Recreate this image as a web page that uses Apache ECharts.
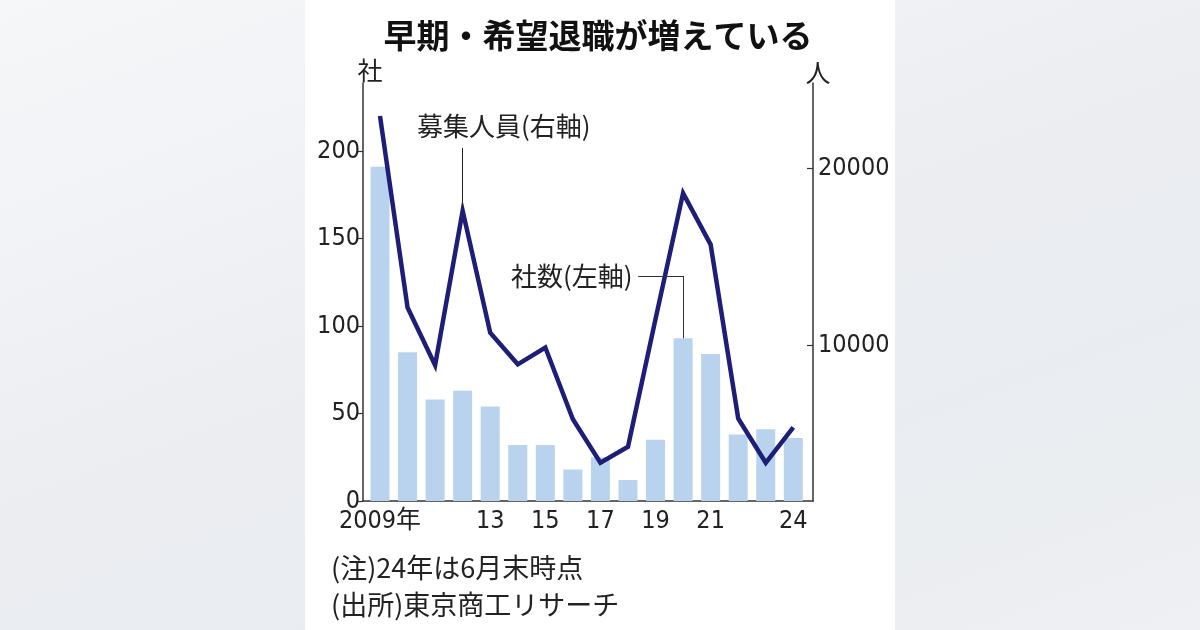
<!DOCTYPE html>
<html><head><meta charset="utf-8">
<script src="https://cdn.jsdelivr.net/npm/echarts@6/dist/echarts.min.js"></script>
<style>
html,body{margin:0;padding:0;width:1200px;height:630px;overflow:hidden;}
body{background:
  linear-gradient(to right,transparent 0,transparent 305px,#ffffff 305px,#ffffff 895px,transparent 895px),
  linear-gradient(160deg,#f6f7f9 0%,#eceef2 45%,#e9ecf0 70%,#eef0f3 100%);}
#c{width:1200px;height:630px;}
</style></head>
<body><div id="c"></div>
<script>
const years = [2009,2010,2011,2012,2013,2014,2015,2016,2017,2018,2019,2020,2021,2022,2023,2024];
const companies = [191,85,58,63,54,32,32,18,25,12,35,93,84,38,41,36];
const recruits = [22950,12150,8900,17600,10730,8950,9900,5850,3400,4300,11500,18600,15700,5900,3400,5400];
const xTickYears = [2009,2013,2015,2017,2019,2021,2024];
const leftTicks = [0,50,100,150,200];
const rightTicks = [10000,20000];

const numFont = '"Liberation Sans Narrow","DejaVu Sans Condensed","Noto Sans CJK JP",sans-serif';
const jpFont = '"Noto Sans CJK JP",sans-serif';
const txt = '#222';

const chart = echarts.init(document.getElementById('c'), null, {renderer:'canvas'});
chart.setOption({
  backgroundColor:'transparent',
  animation:false,
  grid:{left:363,right:387,top:83,bottom:129,containLabel:false},
  xAxis:{
    type:'value', min:2008.383, max:2024.715,
    splitLine:{show:false},
    axisLine:{show:true,lineStyle:{color:'#333',width:1.5}},
    axisTick:{show:false},
    axisLabel:{customValues:xTickYears,color:txt,fontFamily:numFont,fontSize:25,margin:8,
      formatter:v=> v===2009 ? '2009年' : String(v).slice(2)}
  },
  yAxis:[
    {type:'value',min:0,max:238.9,position:'left',
     splitLine:{show:false},
     axisLine:{show:true,lineStyle:{color:'#333',width:1.5}},
     axisTick:{show:true,customValues:leftTicks,length:6,lineStyle:{color:'#333',width:1.2}},
     axisLabel:{customValues:leftTicks,color:txt,fontFamily:numFont,fontSize:25,margin:3,
       formatter:v=>String(v)}},
    {type:'value',min:1246,max:24808,position:'right',
     splitLine:{show:false},
     axisLine:{show:true,lineStyle:{color:'#333',width:1.5}},
     axisTick:{show:true,inside:true,customValues:rightTicks,length:6,lineStyle:{color:'#333',width:1.2}},
     axisLabel:{customValues:rightTicks,color:txt,fontFamily:numFont,fontSize:25,margin:5,
       formatter:v=>String(v)}}
  ],
  series:[
    {type:'bar',yAxisIndex:0,barWidth:19,
     itemStyle:{color:'#b9d3ee'},
     data:years.map((y,i)=>[y,companies[i]]),
     markLine:{silent:true,symbol:'none',label:{show:false},
       lineStyle:{color:'#333',width:1,type:'solid'},
       data:[
         [{coord:[2020,93]},{coord:[2020,128.6]}],
         [{coord:[2020,128.6]},{coord:[2018.37,128.6]}]
       ]}
    },
    {type:'line',yAxisIndex:1,symbol:'none',
     lineStyle:{color:'#1e1e78',width:4.5,join:'miter',cap:'butt'},
     data:years.map((y,i)=>[y,recruits[i]]),
     z:3,
     markLine:{silent:true,symbol:'none',label:{show:false},
       lineStyle:{color:'#222',width:1,type:'solid'},
       data:[[{coord:[2012,17700]},{coord:[2012,21150]}]]}
    }
  ],
  graphic:[
    {type:'text',x:598,y:35,style:{text:'早期・希望退職が増えている',font:'bold 33px '+jpFont,fill:'#111',align:'center',verticalAlign:'middle'}},
    {type:'text',x:370,y:70,style:{text:'社',font:'25px '+jpFont,fill:txt,align:'center',verticalAlign:'middle'}},
    {type:'text',x:818,y:72,style:{text:'人',font:'25px '+jpFont,fill:txt,align:'center',verticalAlign:'middle'}},
    {type:'text',x:417,y:126,style:{text:'募集人員(右軸)',font:'26px '+jpFont,fill:txt,align:'left',verticalAlign:'middle'}},
    {type:'text',x:511,y:276,style:{text:'社数(左軸)',font:'26px '+jpFont,fill:txt,align:'left',verticalAlign:'middle'}},
    {type:'text',x:331,y:568,style:{text:'(注)24年は6月末時点',font:'27px '+jpFont,fill:txt,align:'left',verticalAlign:'middle'}},
    {type:'text',x:331,y:605,style:{text:'(出所)東京商工リサーチ',font:'27px '+jpFont,fill:txt,align:'left',verticalAlign:'middle'}}
  ]
});
</script></body></html>
